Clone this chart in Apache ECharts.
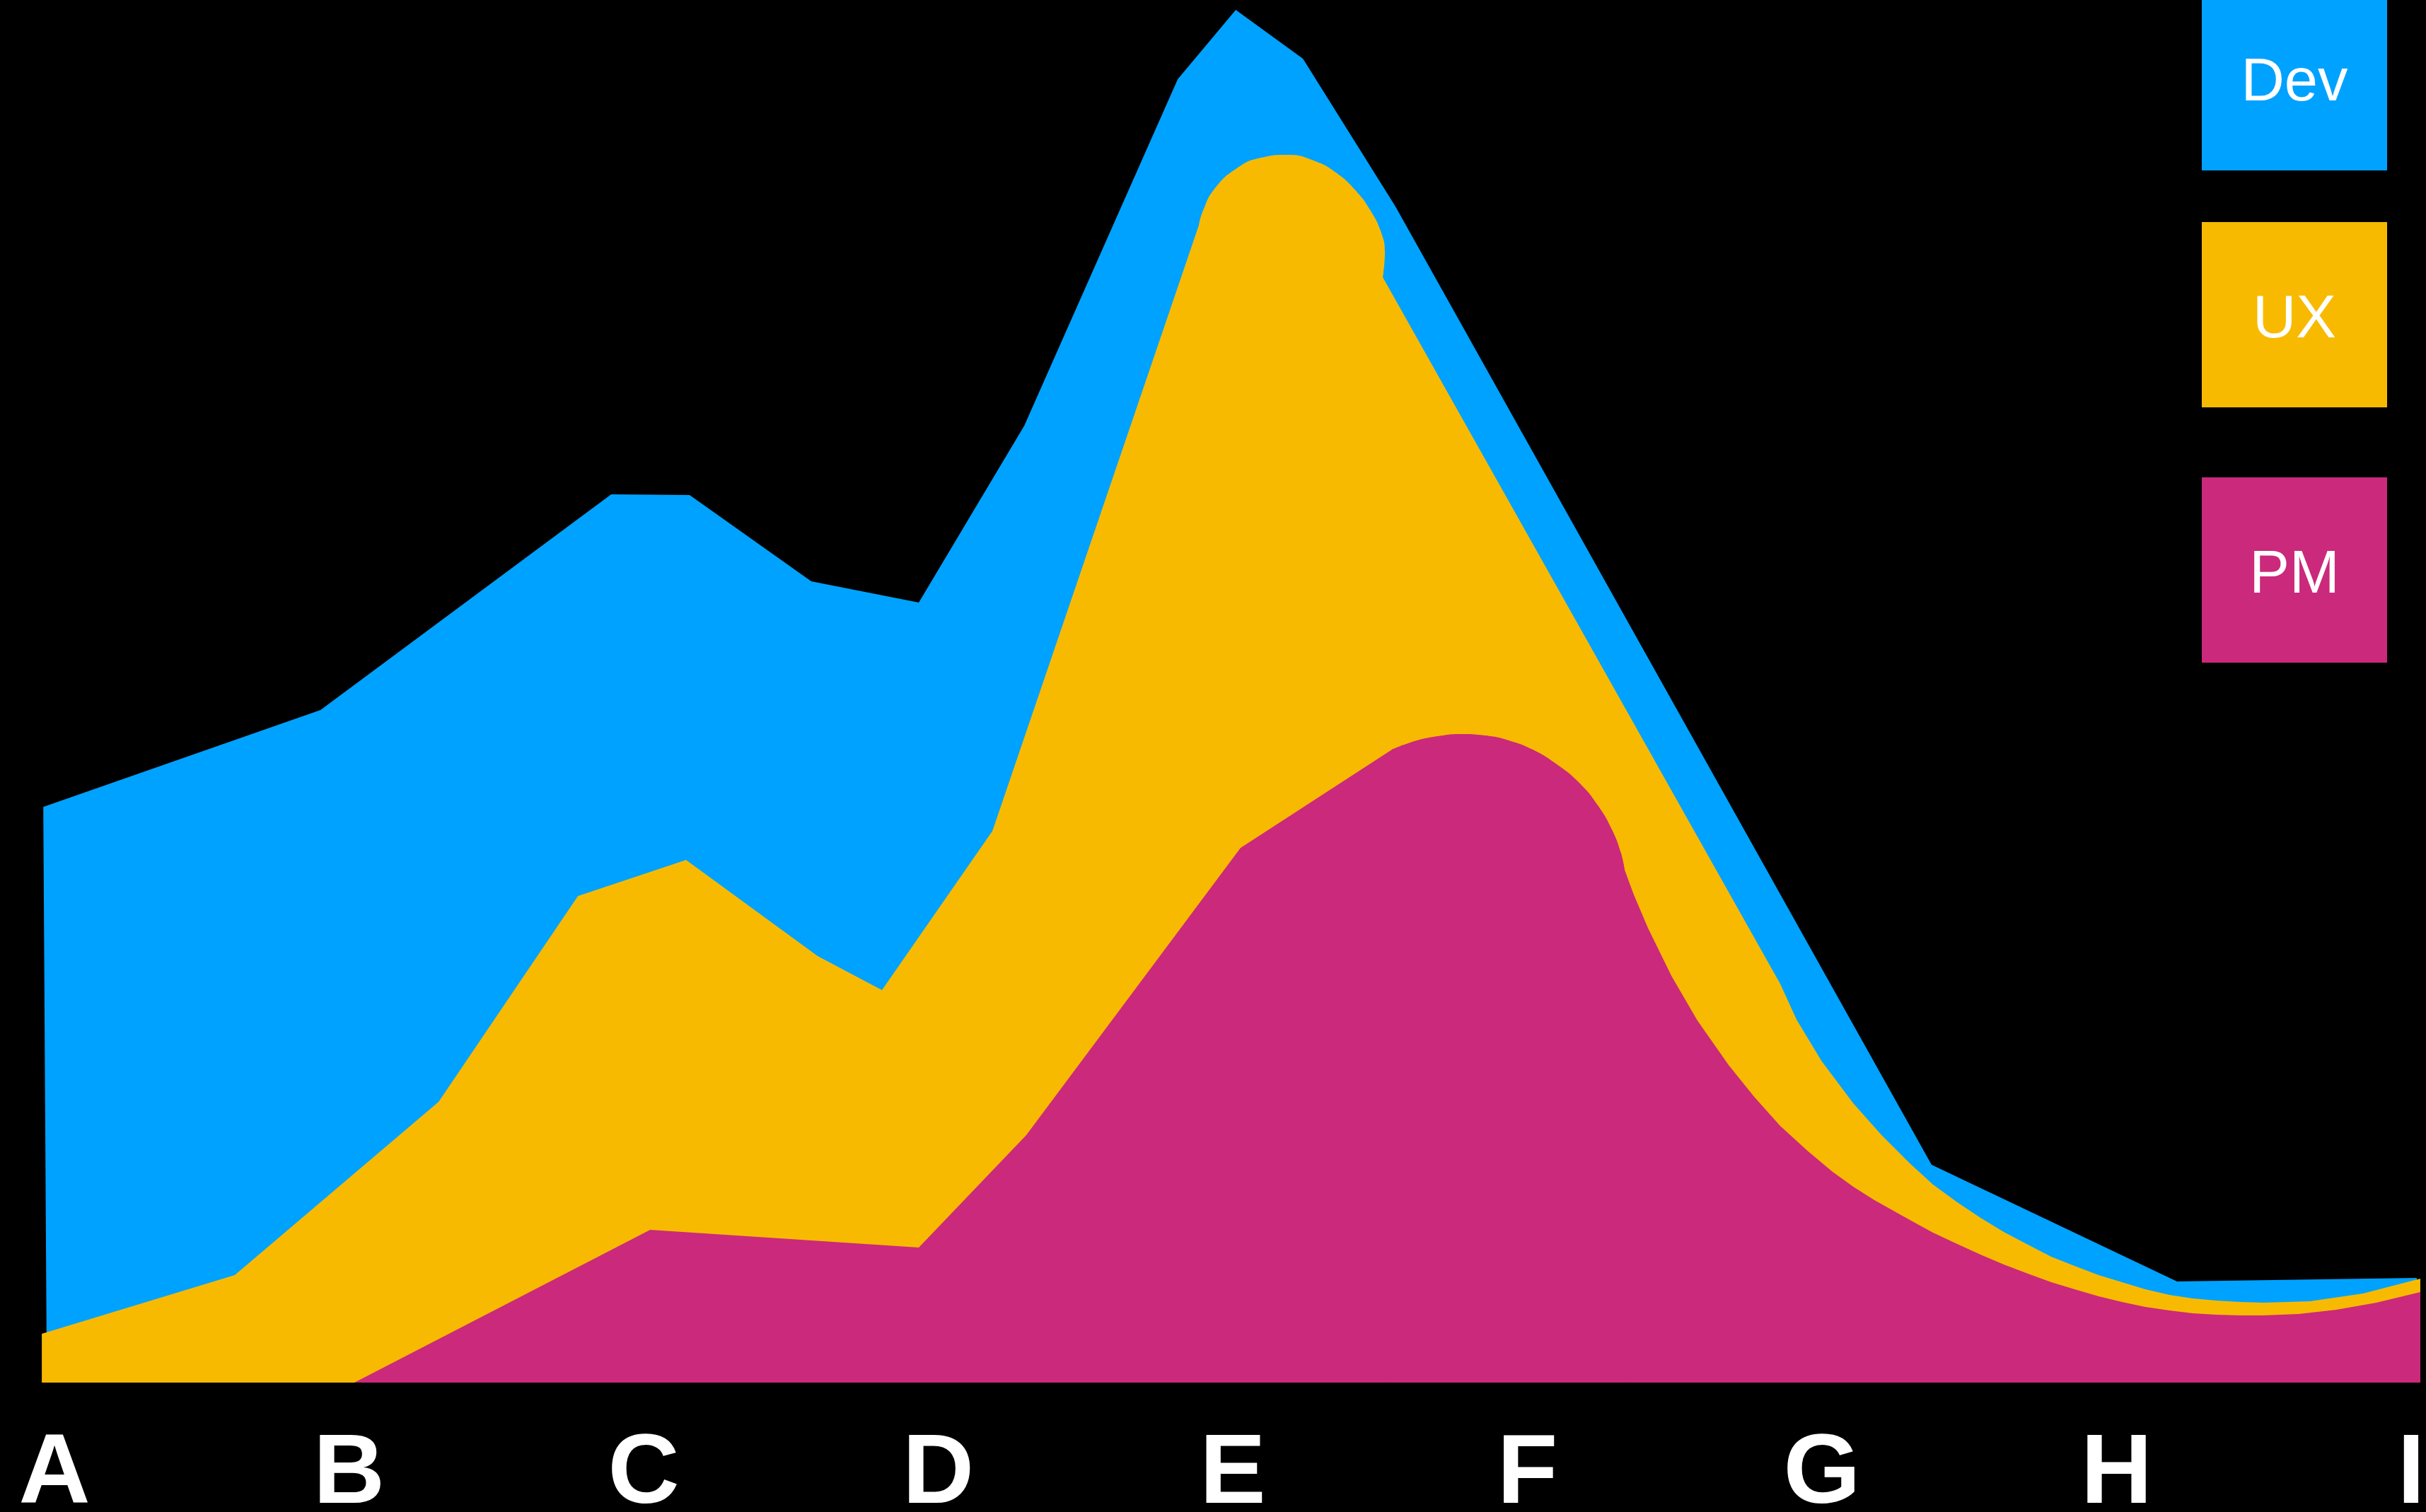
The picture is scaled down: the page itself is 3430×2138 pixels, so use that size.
<!DOCTYPE html>
<html>
<head>
<meta charset="utf-8">
<script src="https://cdn.jsdelivr.net/npm/echarts@6/dist/echarts.min.js"></script>
<style>
  html, body { margin: 0; padding: 0; background: #000; }
  #chart { width: 3430px; height: 2138px; }
</style>
</head>
<body>
<div id="chart"></div>
<script>
// x: A = 0 ... I = 8, y: 0 (base) ... 100 (top)
const categories = ['A', 'B', 'C', 'D', 'E', 'F', 'G', 'H', 'I'];
const tickValues = [0, 1, 2, 3, 4, 5, 6, 7, 8];
const seriesNames = ['Dev', 'UX', 'PM'];

const devPoints = [
  [-0.026, 0], [-0.038, 41.64], [0.903, 48.64], [1.890, 64.25], [2.156, 64.19],
  [2.569, 57.95], [2.934, 56.42], [3.292, 69.21], [3.813, 94.27], [4.010, 99.28],
  [4.238, 95.75], [4.552, 85.06], [6.372, 15.75], [7.205, 7.31], [8.019, 7.57]
];

const uxPoints = [
  [-0.043, 3.53], [0.612, 7.77], [1.304, 20.31], [1.777, 35.19], [2.144, 37.80],
  [2.591, 30.84], [2.809, 28.39], [3.184, 39.90], [3.885, 83.73], [3.897, 84.65],
  [3.938, 86.34], [4.017, 87.88], [4.096, 88.59], [4.185, 88.80], [4.274, 88.39],
  [4.353, 87.47], [4.418, 86.19], [4.466, 84.81], [4.502, 83.27], [4.516, 81.74],
  [4.509, 79.95], [5.858, 28.85], [5.914, 26.24], [5.998, 23.27], [6.106, 20.20],
  [6.202, 17.90], [6.298, 15.86], [6.377, 14.32], [6.459, 13.04], [6.538, 11.92],
  [6.617, 10.90], [6.699, 9.97], [6.778, 9.10], [6.857, 8.44], [6.939, 7.77],
  [7.018, 7.26], [7.097, 6.75], [7.179, 6.34], [7.258, 6.09], [7.337, 5.93],
  [7.419, 5.83], [7.498, 5.78], [7.657, 5.88], [7.837, 6.45], [8.031, 7.52]
];

const pmPoints = [
  [1.018, 0], [2.022, 11.05], [2.934, 9.77], [3.299, 17.90], [4.026, 38.67],
  [4.540, 45.78], [4.617, 46.39], [4.696, 46.75], [4.773, 46.91], [4.857, 46.80],
  [4.936, 46.45], [5.018, 45.78], [5.097, 44.76], [5.176, 43.38], [5.241, 41.69],
  [5.289, 39.90], [5.318, 38.26], [5.330, 37.08], [5.361, 35.29], [5.409, 32.89],
  [5.489, 29.41], [5.577, 26.19], [5.683, 22.97], [5.770, 20.66], [5.858, 18.57],
  [5.950, 16.78], [6.036, 15.24], [6.106, 14.17], [6.178, 13.20], [6.298, 11.76],
  [6.377, 10.84], [6.459, 10.03], [6.538, 9.26], [6.617, 8.54], [6.699, 7.88],
  [6.778, 7.26], [6.857, 6.75], [6.939, 6.24], [7.018, 5.83], [7.097, 5.47],
  [7.179, 5.22], [7.258, 5.01], [7.337, 4.91], [7.419, 4.86], [7.498, 4.86],
  [7.618, 4.96], [7.746, 5.27], [7.882, 5.78], [8.031, 6.55]
];

// index ranges of the round bumps (drawn again smoothed on top)
const uxBump = [8, 21];
const pmBump = [5, 18];

const colors = ['#00A2FF', '#F8BA00', '#CB297B'];
const legendTops = [-21, 314, 675];
const fontFamily = '"Helvetica Neue", Helvetica, "Liberation Sans", Arial, sans-serif';

function areaSeries (name, data, color, smooth) {
  return {
    name: name,
    type: 'line',
    data: data,
    smooth: smooth || false,
    symbol: 'none',
    silent: true,
    lineStyle: { width: 0 },
    itemStyle: { color: color },
    areaStyle: { color: color, opacity: 1 }
  };
}

let myChart = echarts.init(document.getElementById('chart'));
myChart.setOption({
  backgroundColor: '#000',
  animation: false,
  grid: { left: 56.2, right: 4.3, top: 0, bottom: 183, containLabel: false, outerBoundsMode: 'none' },
  xAxis: {
    type: 'value',
    min: -0.05,
    max: 8.04,
    axisLine: { show: false },
    axisTick: { show: false },
    splitLine: { show: false },
    axisLabel: {
      customValues: tickValues,
      formatter: function (v) { return categories[Math.round(v)]; },
      color: '#fff',
      fontSize: 140,
      fontWeight: 'bold',
      fontFamily: fontFamily,
      margin: 61
    }
  },
  yAxis: { type: 'value', min: 0, max: 100, show: false },
  series: [
    areaSeries(seriesNames[0], devPoints, colors[0]),
    areaSeries(seriesNames[1], uxPoints, colors[1]),
    areaSeries(seriesNames[1], uxPoints.slice(uxBump[0], uxBump[1]), colors[1], 0.5),
    areaSeries(seriesNames[2], pmPoints, colors[2]),
    areaSeries(seriesNames[2], pmPoints.slice(pmBump[0], pmBump[1]), colors[2], 0.5)
  ],
  graphic: seriesNames.map(function (name, i) {
    return {
      type: 'group',
      x: 3113,
      y: legendTops[i],
      children: [
        { type: 'rect', shape: { x: 0, y: 0, width: 262, height: 262 }, style: { fill: colors[i] } },
        {
          type: 'text',
          x: 131,
          y: 140,
          style: {
            text: name,
            fill: '#fff',
            fontSize: 85,
            fontFamily: fontFamily,
            align: 'center',
            verticalAlign: 'middle'
          }
        }
      ]
    };
  })
});
</script>
</body>
</html>
